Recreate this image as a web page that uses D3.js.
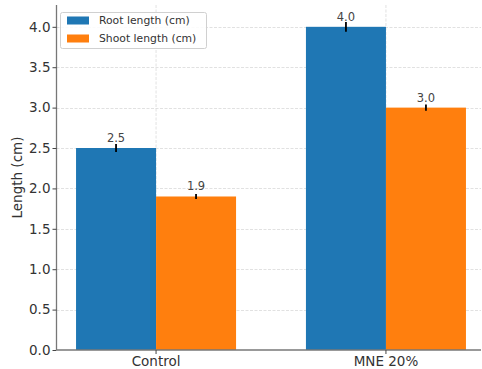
<!DOCTYPE html>
<html>
<head>
<meta charset="utf-8">
<script src="https://cdn.jsdelivr.net/npm/d3@7"></script>
<style>
  html, body { margin: 0; padding: 0; background: #fff; }
  svg { display: block; font-family: "DejaVu Sans", sans-serif; }
</style>
</head>
<body>
<div id="chart"></div>
<script>
const categories = ["Control", "MNE 20%"];
const seriesNames = ["Root length (cm)", "Shoot length (cm)"];
const rootLength = [2.5, 4.0];
const shootLength = [1.9, 3.0];
const rootErr = [0.05, 0.06];
const shootErr = [0.03, 0.04];
const yTicks = [0, 0.5, 1.0, 1.5, 2.0, 2.5, 3.0, 3.5, 4.0];
const colors = ["#1f77b4", "#ff7f0e"];

const width = 482, height = 369;
const plot = { left: 56.5, right: 481, top: 5, bottom: 350 };

const svg = d3.select("#chart").append("svg")
  .attr("width", width)
  .attr("height", height);

const x0 = d3.scaleBand()
  .domain(categories)
  .range([plot.left, 485.5])
  .paddingInner(0.304)
  .paddingOuter(0.085);

const x1 = d3.scaleBand()
  .domain(seriesNames)
  .range([0, x0.bandwidth()]);

const y = d3.scaleLinear()
  .domain([0, 4.27])
  .range([plot.bottom, plot.top]);

const color = d3.scaleOrdinal().domain(seriesNames).range(colors);

// grid lines
const grid = svg.append("g").attr("stroke", "#d9d9d9").attr("stroke-width", 0.8).attr("stroke-dasharray", "3,1.5");
grid.selectAll(".hg").data(yTicks.slice(1)).join("line")
  .attr("x1", plot.left).attr("x2", plot.right)
  .attr("y1", d => Math.round(y(d)) + 0.5).attr("y2", d => Math.round(y(d)) + 0.5);
grid.selectAll(".vg").data(categories).join("line")
  .attr("x1", d => x0(d) + x0.bandwidth() / 2).attr("x2", d => x0(d) + x0.bandwidth() / 2)
  .attr("y1", plot.top).attr("y2", plot.bottom);

// bars
const rows = categories.map((c, i) => ({
  category: c,
  values: [
    { key: seriesNames[0], value: rootLength[i], err: rootErr[i] },
    { key: seriesNames[1], value: shootLength[i], err: shootErr[i] }
  ]
}));

const groups = svg.append("g").selectAll("g")
  .data(rows).join("g")
  .attr("transform", d => `translate(${x0(d.category)},0)`);

groups.selectAll("rect")
  .data(d => d.values).join("rect")
  .attr("x", d => x1(d.key))
  .attr("width", x1.bandwidth())
  .attr("y", d => y(d.value))
  .attr("height", d => y(0) - y(d.value))
  .attr("fill", d => color(d.key));

groups.selectAll("line.err")
  .data(d => d.values).join("line")
  .attr("class", "err")
  .attr("x1", d => x1(d.key) + x1.bandwidth() / 2)
  .attr("x2", d => x1(d.key) + x1.bandwidth() / 2)
  .attr("y1", d => y(d.value - d.err))
  .attr("y2", d => y(d.value + d.err))
  .attr("stroke", "#000")
  .attr("stroke-width", 1.8);

groups.selectAll("text.val")
  .data(d => d.values).join("text")
  .attr("class", "val")
  .attr("x", d => x1(d.key) + x1.bandwidth() / 2)
  .attr("y", d => y(d.value) - 6)
  .attr("text-anchor", "middle")
  .attr("font-size", 11.5)
  .attr("fill", "#444")
  .text(d => d.value.toFixed(1));

// axes
const yAxis = svg.append("g")
  .attr("transform", `translate(${plot.left},0)`)
  .call(d3.axisLeft(y).tickValues(yTicks).tickFormat(d3.format(".1f")).tickSize(4).tickPadding(2));
yAxis.select(".domain").attr("d", `M0,${plot.top}V${plot.bottom}`);

const xAxis = svg.append("g")
  .attr("transform", `translate(0,${plot.bottom})`)
  .call(d3.axisBottom(x0).tickSize(4).tickPadding(2));
xAxis.select(".domain").attr("d", `M${plot.left},0H${plot.right}`);

svg.selectAll(".domain").attr("stroke", "#777").attr("stroke-width", 1.3);
svg.selectAll(".tick line").attr("stroke", "#444");
svg.selectAll(".tick text").attr("font-size", 13.5).attr("fill", "#333")
  .attr("font-family", "DejaVu Sans, sans-serif");

svg.append("text")
  .attr("transform", `translate(17,177.5) rotate(-90)`)
  .attr("text-anchor", "middle")
  .attr("dominant-baseline", "central")
  .attr("font-size", 13.5)
  .attr("fill", "#333")
  .text("Length (cm)");

// legend
const legend = svg.append("g");
legend.append("rect")
  .attr("x", 60.5).attr("y", 12.5).attr("width", 146).attr("height", 36)
  .attr("rx", 2).attr("fill", "#fff").attr("fill-opacity", 0.85)
  .attr("stroke", "#d0d0d0");
const items = legend.selectAll("g.item").data(seriesNames).join("g")
  .attr("class", "item")
  .attr("transform", (d, i) => `translate(67,${20.5 + i * 18})`);
items.append("rect").attr("x", 0).attr("y", -4).attr("width", 22).attr("height", 8)
  .attr("fill", d => color(d));
items.append("text").attr("x", 32).attr("y", 0)
  .attr("dominant-baseline", "central")
  .attr("font-size", 10.8).attr("fill", "#333")
  .text(d => d);
</script>
</body>
</html>
